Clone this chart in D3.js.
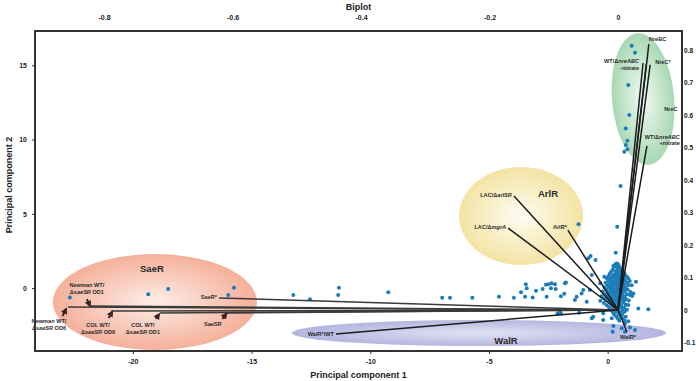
<!DOCTYPE html>
<html>
<head>
<meta charset="utf-8">
<script src="https://cdn.jsdelivr.net/npm/d3@7"></script>
<style>
  body { margin: 0; background: #fff; }
  text { font-family: "Liberation Sans", Arial, sans-serif; }
</style>
</head>
<body>
<svg id="chart" width="696" height="381"></svg>
<script>
// sample scores (PC1, PC2)
const scoresNre = [[1.01, 16.32], [1.15, 15.85], [0.87, 13.67], [0.91, 11.65], [0.76, 10.75], [0.83, 9.92],
  [0.76, 9.63], [0.83, 9.34], [0.70, 9.18], [0.54, 6.87], [0.40, 4.13], [-1.23, 4.29], [0.34, 2.38]]
const scoresSae = [[-22.65, -0.63], [-19.35, -0.42], [-18.51, -0.07], [-15.74, 0.02], [-15.98, -0.47]]
const scoresMid = [[-13.24, -0.47], [-12.54, -0.76], [-11.32, 0.02], [-11.35, -0.47], [-9.24, -0.29],
  [-6.97, -0.65], [-6.64, -0.65], [-5.70, -0.65], [-4.58, -0.59], [-3.95, -0.65], [-3.65, -0.29],
  [-3.45, 0.25], [-3.41, -0.02], [-3.48, -0.59], [-3.16, -0.63], [-3.02, -0.18], [-2.74, -0.07],
  [-2.60, 0.22], [-2.50, 0.25], [-2.36, 0.32], [-2.39, -0.02], [-2.19, -0.07], [-2.57, -0.59],
  [-2.22, 0.25], [-1.76, 0.38], [-1.83, -0.38], [-1.97, -0.56], [-2.11, -1.70], [-1.97, -1.70],
  [-1.20, -1.66], [-0.67, -2.04], [-0.19, -2.15], [-1.31, -0.59], [-1.10, -0.36], [-1.03, -0.13],
  [-0.75, -0.13], [-0.88, -0.92], [-1.38, -0.81], [-2.01, -1.66], [-1.80, 0.32]]
const scoresEdge = [[0.21, -2.94], [0.59, -2.71], [0.73, -2.94], [1.15, -2.83], [1.19, 0.42], [1.71, -1.43],
  [1.29, -1.37], [1.08, -0.36], [-0.72, 2.15], [-0.82, 2.0], [-0.51, 1.89], [0.24, 1.48], [0.40, 1.66],
  [-0.14, 0.76], [-0.67, 0.88], [-0.32, 0.32], [0.94, -0.47], [0.87, -1.14], [-0.61, -1.93],
  [-0.19, -1.70], [0.17, -2.04], [0.24, -2.56], [0.73, -2.38], [0.94, -2.65]]
const scoresCore = [
  [0.33, 1.62], [0.46, 1.55], [0.27, 1.41], [0.51, 1.37], [0.39, 1.44],
  [0.21, 1.24], [0.42, 1.27], [0.57, 1.21], [0.14, 1.08], [0.34, 1.12], [0.48, 1.05], [0.63, 1.10],
  [0.09, 0.96], [0.27, 0.92], [0.41, 0.98], [0.56, 0.93], [0.71, 0.97],
  [0.04, 0.81], [0.19, 0.78], [0.36, 0.83], [0.49, 0.77], [0.61, 0.82], [0.79, 0.79],
  [-0.03, 0.66], [0.13, 0.62], [0.29, 0.68], [0.43, 0.64], [0.54, 0.67], [0.67, 0.61], [0.86, 0.66],
  [0.02, 0.49], [0.17, 0.53], [0.33, 0.47], [0.46, 0.52], [0.59, 0.48], [0.73, 0.51], [0.93, 0.47],
  [-0.09, 0.36], [0.11, 0.33], [0.23, 0.38], [0.39, 0.34], [0.51, 0.37], [0.64, 0.32], [0.81, 0.36],
  [-0.01, 0.21], [0.16, 0.18], [0.31, 0.23], [0.44, 0.19], [0.56, 0.22], [0.69, 0.17], [0.87, 0.21], [1.01, 0.18],
  [-0.13, 0.06], [0.06, 0.03], [0.21, 0.08], [0.37, 0.04], [0.47, 0.07], [0.61, 0.02], [0.75, 0.06],
  [-0.06, -0.09], [0.13, -0.12], [0.26, -0.07], [0.41, -0.11], [0.53, -0.08], [0.67, -0.13], [0.84, -0.09],
  [-0.21, -0.24], [0.03, -0.27], [0.19, -0.22], [0.32, -0.26], [0.47, -0.23], [0.59, -0.28], [0.71, -0.22], [0.96, -0.26],
  [-0.11, -0.41], [0.09, -0.38], [0.24, -0.43], [0.39, -0.39], [0.51, -0.42], [0.63, -0.37], [0.81, -0.41],
  [-0.26, -0.56], [-0.01, -0.53], [0.16, -0.58], [0.29, -0.54], [0.45, -0.57], [0.56, -0.52], [0.71, -0.58], [1.03, -0.54],
  [-0.13, -0.71], [0.07, -0.68], [0.21, -0.73], [0.37, -0.69], [0.48, -0.72], [0.63, -0.67], [0.77, -0.73],
  [-0.31, -0.86], [0.01, -0.83], [0.15, -0.88], [0.27, -0.84], [0.43, -0.87], [0.54, -0.82], [0.69, -0.88], [0.89, -0.84],
  [-0.16, -1.01], [0.09, -0.98], [0.22, -1.03], [0.38, -0.99], [0.49, -1.02], [0.65, -0.97],
  [-0.04, -1.16], [0.17, -1.13], [0.30, -1.18], [0.46, -1.14], [0.57, -1.17], [0.76, -1.12],
  [0.06, -1.31], [0.23, -1.28], [0.41, -1.33], [0.54, -1.29], [0.69, -1.32],
  [0.11, -1.46], [0.31, -1.43], [0.46, -1.48], [0.63, -1.44], [0.81, -1.47],
  [0.21, -1.61], [0.37, -1.58], [0.55, -1.63], [0.71, -1.59],
  [0.27, -1.76], [0.46, -1.73], [0.61, -1.78], [0.36, -1.91], [0.54, -1.88], [0.76, -1.93],
  [0.43, -2.06], [0.62, -2.03], [0.49, -2.21], [0.71, -2.18], [0.87, -2.23]]

// loadings (top / right axes)
const loadingNames = ['NreBC', 'WT-nitrate', 'NreC', 'NreC*', 'WT+nitrate', 'LAC/arlSR', 'LAC/mgrA', 'ArlR*',
  'SaeR*', 'NewmanOD6', 'NewmanOD1', 'COLOD6', 'COLOD1', 'SaeSR', 'WalR*/WT', 'WalR*']
const loadingX = [0.048, 0.039, 0.044, 0.050, 0.045, -0.162, -0.171, -0.078,
  -0.621, -0.856, -0.822, -0.789, -0.713, -0.612, -0.439, 0.014]
const loadingY = [0.818, 0.760, 0.757, 0.754, 0.505, 0.351, 0.252, 0.246,
  0.037, 0.009, 0.012, -0.003, -0.009, -0.009, -0.074, -0.068]
const saeLoadings = ['SaeR*', 'NewmanOD6', 'NewmanOD1', 'COLOD6', 'COLOD1', 'SaeSR']

const xTicks = [-20, -15, -10, -5, 0]
const yTicks = [0, 5, 10, 15]
const topTicks = [-0.8, -0.6, -0.4, -0.2, 0]
const rightTicks = [-0.1, 0, 0.1, 0.2, 0.3, 0.4, 0.5, 0.6, 0.7, 0.8]

const svg = d3.select('#chart')
const plotLeft = 35
const plotRight = 682
const plotTop = 31
const plotBottom = 351

const x = d3.scaleLinear().domain([-24.12, 3.13]).range([plotLeft, plotRight])
const y = d3.scaleLinear().domain([-4.24, 17.31]).range([plotBottom, plotTop])
const xL = d3.scaleLinear().domain([-0.9074, 0.0996]).range([plotLeft, plotRight])
const yL = d3.scaleLinear().domain([-0.1262, 0.8585]).range([plotBottom, plotTop])

// gradients for group ellipses
const defs = svg.append('defs')
const groups = [
  { id: 'sae', name: 'SaeR', cx: -19.07, cy: -0.94, rx: 4.30, ry: 3.23, rot: 0, inner: '#fdeee8', outer: '#f5b09a', tdx: -3, tdy: -33 },
  { id: 'arl', name: 'ArlR', cx: -3.65, cy: 4.85, rx: 2.61, ry: 3.30, rot: 0, inner: '#fffdf2', outer: '#f3e3a3', tdx: 27, tdy: -22 },
  { id: 'wal', name: 'WalR', cx: -5.42, cy: -3.03, rx: 7.88, ry: 0.875, rot: 0, inner: '#e2e2f4', outer: '#b4b5e0', tdx: 27, tdy: 8 },
  { id: 'nre', name: '', cx: 1.49, cy: 12.73, rx: 1.31, ry: 4.44, rot: -5, inner: '#f2faf4', outer: '#a8d8b2', tdx: 0, tdy: 0 }
]
groups.forEach(g => {
  const grad = defs.append('radialGradient').attr('id', 'grad-' + g.id)
  grad.append('stop').attr('offset', '0%').attr('stop-color', g.inner)
  grad.append('stop').attr('offset', '100%').attr('stop-color', g.outer)
})
defs.append('marker')
  .attr('id', 'arrow')
  .attr('viewBox', '0 0 10 10')
  .attr('refX', 7).attr('refY', 5)
  .attr('markerWidth', 3.4).attr('markerHeight', 3.4)
  .attr('orient', 'auto')
  .append('path')
  .attr('d', 'M0,0L10,5L0,10z')
  .attr('fill', '#3b2424')

const ell = svg.append('g')
ell.selectAll('ellipse')
  .data(groups)
  .enter()
  .append('ellipse')
  .attr('cx', d => x(d.cx))
  .attr('cy', d => y(d.cy))
  .attr('rx', d => x(d.rx) - x(0))
  .attr('ry', d => y(0) - y(d.ry))
  .attr('transform', d => `rotate(${d.rot},${x(d.cx)},${y(d.cy)})`)
  .attr('fill', d => `url(#grad-${d.id})`)

ell.selectAll('text')
  .data(groups.filter(g => g.name))
  .enter()
  .append('text')
  .attr('x', d => x(d.cx) + d.tdx)
  .attr('y', d => y(d.cy) + d.tdy + 3)
  .attr('text-anchor', 'middle')
  .attr('font-size', 9.5)
  .attr('font-weight', 'bold')
  .attr('fill', '#2a2a2a')
  .text(d => d.name)

// score points
const allScores = [].concat(scoresNre, scoresSae, scoresMid, scoresEdge, scoresCore)
svg.append('g')
  .selectAll('circle')
  .data(allScores)
  .enter()
  .append('circle')
  .attr('cx', d => x(d[0]))
  .attr('cy', d => y(d[1]))
  .attr('r', 2)
  .attr('fill', '#1b7db8')

// loading vectors
const loadings = loadingNames.map((n, i) => ({ name: n, lx: loadingX[i], ly: loadingY[i] }))
svg.append('g')
  .selectAll('line')
  .data(loadings)
  .enter()
  .append('line')
  .attr('x1', xL(0))
  .attr('y1', yL(0))
  .attr('x2', d => xL(d.lx))
  .attr('y2', d => yL(d.ly))
  .attr('stroke', d => saeLoadings.includes(d.name) ? '#3a3a3a' : '#1c1c1c')
  .attr('stroke-width', 1.5)

// loading labels: [name, lines, anchor, dx, dy]
const it = s => `<tspan font-style="italic">${s}</tspan>`
const labelDefs = [
  ['NreBC', ['NreBC'], 'start', 0, -3],
  ['NreC*', ['NreC*'], 'start', 5, -1],
  ['WT-nitrate', ['WT/\u0394' + it('nreABC'), '-nitrate'], 'end', -4, 0],
  ['NreC', ['NreC'], 'start', 18, 47],
  ['WT+nitrate', ['WT/\u0394' + it('nreABC'), '+nitrate'], 'end', 33, -7],
  ['LAC/arlSR', ['LAC/\u0394' + it('arlSR')], 'end', -2, 1],
  ['LAC/mgrA', ['LAC/\u0394' + it('mgrA')], 'end', -2, 1],
  ['ArlR*', ['ArlR*'], 'end', -1, -1],
  ['SaeR*', ['SaeR*'], 'end', -2, 1.5],
  ['WalR*/WT', ['WalR*/WT'], 'end', -2, 2],
  ['WalR*', ['WalR*'], 'middle', 1, 7]
]
const lab = svg.append('g')
  .attr('font-size', 5.6)
  .attr('font-weight', 'bold')
  .attr('fill', '#2b2b2b')
labelDefs.forEach(([name, lines, anchor, dx, dy]) => {
  const d = loadings.find(l => l.name === name)
  lines.forEach((t, k) => {
    lab.append('text')
      .attr('x', xL(d.lx) + dx)
      .attr('y', yL(d.ly) + dy + k * 6.6)
      .attr('text-anchor', anchor)
      .html(t)
  })
})

// SaeR labels with arrows: [name, lines, label dx, label dy, arrow from dx/dy, arrow to dx/dy]
const saeDefs = [
  ['NewmanOD1', ['Newman WT/', '\u0394' + it('saeSR') + ' OD1'], -3, -19, -3, -7, 0, -0.5],
  ['NewmanOD6', ['Newman WT/', '\u0394' + it('saeSR') + ' OD6'], -19, 16, -5.5, 9, -2, 2],
  ['COLOD6', ['COL WT/', '\u0394' + it('saeSR') + ' OD6'], -13, 16, -2.5, 7, 1, 1],
  ['COLOD1', ['COL WT/', '\u0394' + it('saeSR') + ' OD1'], -17, 14, -4, 6, -1, 1.5],
  ['SaeSR', ['SaeSR'], -12, 13, -2.5, 6, 1.5, 1]
]
saeDefs.forEach(([name, lines, ldx, ldy, ax1, ay1, ax2, ay2]) => {
  const d = loadings.find(l => l.name === name)
  const px = xL(d.lx)
  const py = yL(d.ly)
  lines.forEach((t, k) => {
    lab.append('text')
      .attr('x', px + ldx)
      .attr('y', py + ldy + k * 6.6)
      .attr('text-anchor', 'middle')
      .html(t)
  })
  svg.append('line')
    .attr('x1', px + ax1)
    .attr('y1', py + ay1)
    .attr('x2', px + ax2)
    .attr('y2', py + ay2)
    .attr('stroke', '#3b2424')
    .attr('stroke-width', 2)
    .attr('marker-end', 'url(#arrow)')
})

// axes
const styleAxis = g => {
  g.select('.domain').remove()
  g.selectAll('text')
    .attr('font-size', 7)
    .attr('font-weight', 'bold')
    .attr('fill', '#222')
  g.selectAll('line').attr('stroke', '#333')
}
svg.append('g')
  .attr('transform', `translate(0,${plotBottom})`)
  .call(d3.axisBottom(x).tickValues(xTicks).tickSize(3).tickPadding(5).tickFormat(d => String(d)))
  .call(styleAxis)
svg.append('g')
  .attr('transform', `translate(${plotLeft},0)`)
  .call(d3.axisLeft(y).tickValues(yTicks).tickSize(3).tickPadding(5).tickFormat(d => String(d)))
  .call(styleAxis)
svg.append('g')
  .attr('transform', `translate(0,${plotTop})`)
  .call(d3.axisTop(xL).tickValues(topTicks).tickSize(0).tickPadding(11).tickFormat(d => String(d)))
  .call(styleAxis)
svg.append('g')
  .attr('transform', `translate(${plotRight},0)`)
  .call(d3.axisRight(yL).tickValues(rightTicks).tickSize(0).tickPadding(2).tickFormat(d => String(d)))
  .call(styleAxis)
  .selectAll('text').attr('font-size', 6.6)

// frame
svg.append('rect')
  .attr('x', plotLeft)
  .attr('y', plotTop)
  .attr('width', plotRight - plotLeft)
  .attr('height', plotBottom - plotTop)
  .attr('fill', 'none')
  .attr('stroke', '#333')
  .attr('stroke-width', 2)

// titles
svg.append('text')
  .attr('x', (plotLeft + plotRight) / 2)
  .attr('y', 10)
  .attr('text-anchor', 'middle')
  .attr('font-size', 9)
  .attr('font-weight', 'bold')
  .attr('fill', '#222')
  .text('Biplot')
svg.append('text')
  .attr('x', (plotLeft + plotRight) / 2)
  .attr('y', 378)
  .attr('text-anchor', 'middle')
  .attr('font-size', 9)
  .attr('font-weight', 'bold')
  .attr('fill', '#222')
  .text('Principal component 1')
svg.append('text')
  .attr('transform', `translate(12,${(plotTop + plotBottom) / 2 - 6}) rotate(-90)`)
  .attr('text-anchor', 'middle')
  .attr('font-size', 9)
  .attr('font-weight', 'bold')
  .attr('fill', '#222')
  .text('Principal component 2')
</script>
</body>
</html>
